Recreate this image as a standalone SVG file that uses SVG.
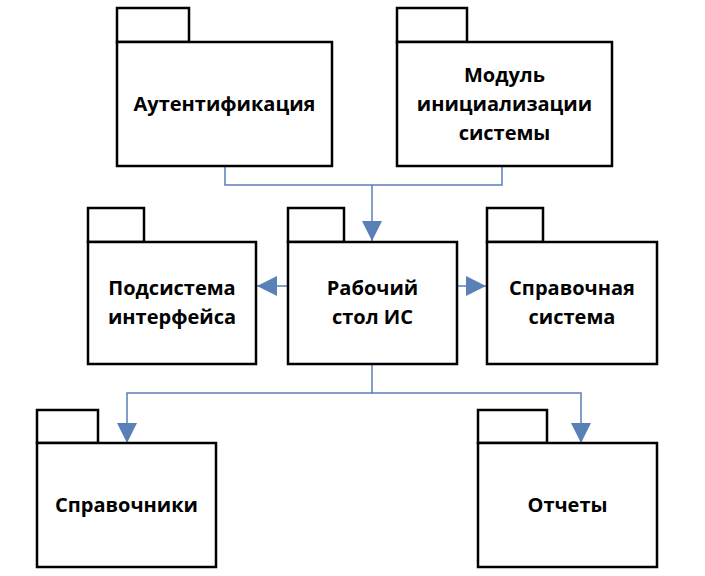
<svg xmlns="http://www.w3.org/2000/svg" width="705" height="576" viewBox="0 0 705 576">
<style>
.pk{fill:#fff;stroke:#000;stroke-width:2.5}
.t{font-family:"Open Sans","Liberation Sans",sans-serif;font-weight:bold;font-size:20px;fill:#000;text-anchor:middle}
.c{fill:none;stroke:#5a80b8;stroke-width:1.5}
</style>
<defs>
<marker id="ahb" markerWidth="20" markerHeight="20" refX="20" refY="10" orient="auto" markerUnits="userSpaceOnUse" viewBox="0 0 20 20">
<path d="M0,0 L20,10 L0,20 Z" fill="#5a80b8"/>
</marker>
</defs>
<rect width="705" height="576" fill="#fff"/>
<g id="connectors">
<path class="c" d="M225,167 V185 H502 V167"/>
<path class="c" d="M372,185 V241" marker-end="url(#ahb)"/>
<path class="c" d="M288,286 H257" marker-end="url(#ahb)"/>
<path class="c" d="M457,286 H486" marker-end="url(#ahb)"/>
<path class="c" d="M372,365 V393 H127 V443" marker-end="url(#ahb)"/>
<path class="c" d="M372,393 H581 V443" marker-end="url(#ahb)"/>
</g>
<g id="auth">
<rect class="pk" x="117" y="8" width="72" height="34"/>
<rect class="pk" x="117" y="42" width="215" height="124"/>
<text class="t" x="224.5" y="111">Аутентификация</text>
</g>
<g id="init">
<rect class="pk" x="397" y="8" width="70" height="34"/>
<rect class="pk" x="397" y="42" width="215" height="124"/>
<text class="t" x="504.5" y="82">Модуль</text>
<text class="t" x="504.5" y="111">инициализации</text>
<text class="t" x="504.5" y="140">системы</text>
</g>
<g id="ui">
<rect class="pk" x="88" y="208" width="56" height="34"/>
<rect class="pk" x="88" y="242" width="168" height="122"/>
<text class="t" x="172" y="295">Подсистема</text>
<text class="t" x="172" y="324">интерфейса</text>
</g>
<g id="desk">
<rect class="pk" x="288" y="208" width="56" height="34"/>
<rect class="pk" x="288" y="242" width="169" height="122"/>
<text class="t" x="372.5" y="295">Рабочий</text>
<text class="t" x="372.5" y="324">стол ИС</text>
</g>
<g id="help">
<rect class="pk" x="487" y="208" width="56" height="34"/>
<rect class="pk" x="487" y="242" width="170" height="122"/>
<text class="t" x="572" y="295">Справочная</text>
<text class="t" x="572" y="324">система</text>
</g>
<g id="refs">
<rect class="pk" x="37" y="410" width="61" height="33"/>
<rect class="pk" x="37" y="443" width="179" height="124"/>
<text class="t" x="126.5" y="512">Справочники</text>
</g>
<g id="reports">
<rect class="pk" x="478" y="410" width="69" height="33"/>
<rect class="pk" x="478" y="443" width="179" height="124"/>
<text class="t" x="567.5" y="512">Отчеты</text>
</g>
</svg>
